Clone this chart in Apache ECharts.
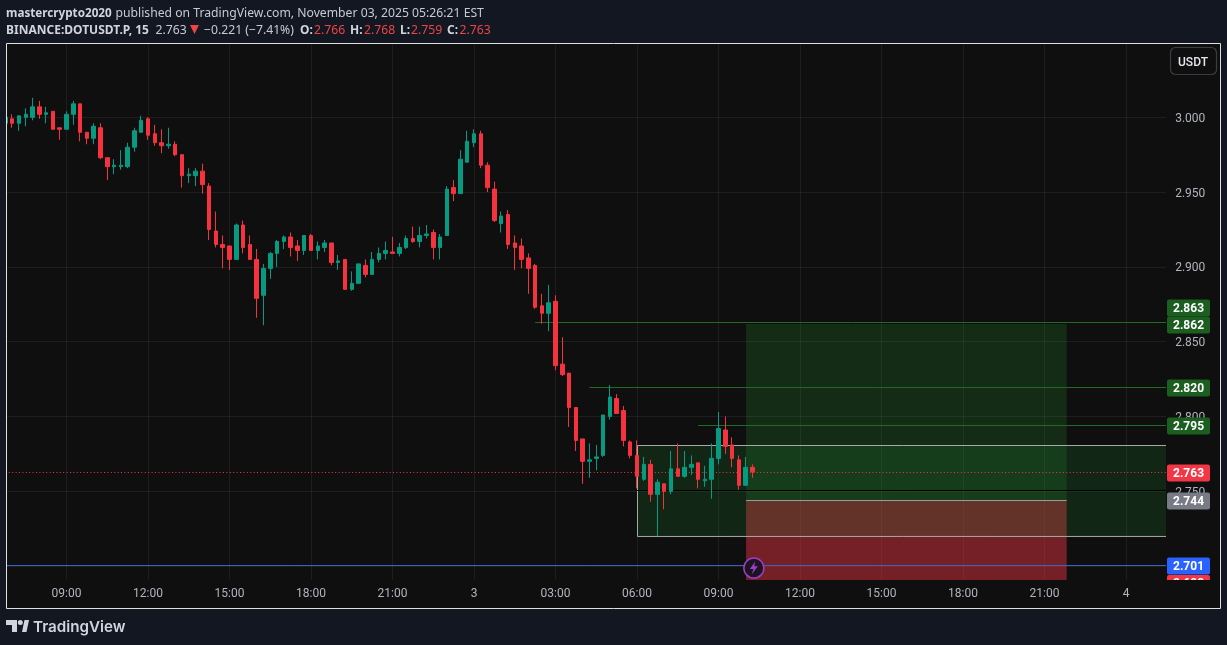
<!DOCTYPE html>
<html>
<head>
<meta charset="utf-8">
<title>DOTUSDT.P</title>
<script src="https://cdn.jsdelivr.net/npm/echarts@6/dist/echarts.min.js"></script>
<style>
html,body{margin:0;padding:0;background:#131722;}
#chart{width:1227px;height:645px;}
</style>
</head>
<body>
<div id="chart"></div>
<script>
// one row per 15 minute bar, starting 06:45 on Nov 2
var opens  = [2.996,2.999,2.996,3.000,3.000,3.007,3.002,3.004,2.993,2.992,3.002,3.009,2.990,2.986,2.993,2.973,2.967,2.967,2.967,2.980,2.990,2.999,2.989,2.983,2.981,2.982,2.975,2.961,2.961,2.964,2.954,2.924,2.915,2.914,2.905,2.928,2.915,2.905,2.881,2.899,2.909,
              2.917,2.920,2.914,2.911,2.921,2.911,2.913,2.916,2.903,2.905,2.885,2.889,2.901,2.895,2.905,2.909,2.910,2.909,2.913,2.919,2.917,2.921,2.923,2.913,2.921,2.953,2.949,2.970,2.983,2.989,2.968,2.952,2.929,2.935,2.916,2.914,2.906,2.901,2.874,
              2.869,2.877,2.835,2.829,2.806,2.785,2.770,2.772,2.774,2.800,2.812,2.804,2.783,2.774,2.758,2.768,2.748,2.755,2.750,2.765,2.760,2.766,2.769,2.757,2.758,2.772,2.791,2.781,2.771,2.754,2.766];
var closes = [3.000,2.996,3.001,3.002,3.007,3.002,3.003,2.992,2.992,3.002,3.009,2.990,2.986,2.994,2.973,2.967,2.968,2.968,2.980,2.991,2.998,2.988,2.983,2.981,2.982,2.975,2.961,2.962,2.964,2.955,2.925,2.915,2.913,2.905,2.928,2.913,2.905,2.879,2.899,2.909,2.917,
              2.920,2.913,2.911,2.921,2.911,2.914,2.916,2.903,2.904,2.885,2.889,2.902,2.895,2.905,2.909,2.911,2.909,2.913,2.919,2.917,2.921,2.922,2.913,2.920,2.952,2.949,2.972,2.984,2.989,2.968,2.953,2.931,2.934,2.915,2.913,2.905,2.899,2.873,2.869,
              2.876,2.834,2.828,2.806,2.784,2.770,2.771,2.773,2.801,2.813,2.802,2.784,2.774,2.760,2.768,2.748,2.756,2.750,2.765,2.760,2.766,2.768,2.758,2.758,2.772,2.792,2.780,2.772,2.754,2.766,2.763];
var lows   = [2.995,2.993,2.991,2.994,2.998,2.999,2.996,2.992,2.985,2.992,2.995,2.984,2.982,2.982,2.972,2.958,2.962,2.965,2.966,2.977,2.990,2.985,2.981,2.976,2.979,2.974,2.953,2.956,2.954,2.949,2.918,2.913,2.899,2.898,2.905,2.909,2.905,2.866,2.861,2.892,2.900,
              2.912,2.907,2.904,2.908,2.911,2.905,2.910,2.901,2.898,2.885,2.884,2.889,2.893,2.895,2.903,2.905,2.909,2.907,2.912,2.916,2.913,2.919,2.905,2.905,2.921,2.944,2.949,2.970,2.980,2.966,2.950,2.930,2.923,2.912,2.898,2.899,2.882,2.872,2.862,
              2.857,2.831,2.827,2.793,2.777,2.755,2.759,2.764,2.773,2.798,2.802,2.780,2.772,2.752,2.757,2.743,2.720,2.738,2.748,2.760,2.759,2.761,2.752,2.753,2.745,2.768,2.775,2.766,2.751,2.754,2.759];
var highs  = [3.001,3.002,3.001,3.006,3.013,3.011,3.007,3.004,2.993,3.004,3.011,3.009,2.990,2.996,2.996,2.973,2.972,2.978,2.983,2.993,3.001,3.000,2.995,2.992,2.993,2.984,2.975,2.966,2.966,2.969,2.956,2.937,2.921,2.914,2.929,2.931,2.921,2.912,2.902,2.910,2.918,
              2.921,2.923,2.918,2.921,2.922,2.917,2.918,2.916,2.908,2.905,2.897,2.902,2.905,2.910,2.913,2.917,2.920,2.916,2.921,2.927,2.927,2.928,2.925,2.922,2.954,2.958,2.978,2.991,2.992,2.991,2.970,2.957,2.937,2.938,2.921,2.919,2.909,2.902,2.882,
              2.888,2.881,2.853,2.829,2.806,2.785,2.782,2.781,2.801,2.821,2.815,2.807,2.784,2.784,2.773,2.771,2.758,2.755,2.777,2.782,2.777,2.774,2.769,2.767,2.782,2.803,2.800,2.786,2.774,2.773,2.768];

// time axis, 172 slots of 15 minutes
var categories = [];
for (var m = 0; m < 172; m++) {
    var t = 405 + m * 15;
    categories.push(('0' + (Math.floor(t / 60) % 24)).slice(-2) + ':' + ('0' + (t % 60)).slice(-2));
}
var xTickIndex = [9,21,33,45,57,69,81,93,105,117,129,141,153,165];
var xTickLabels = ['09:00','12:00','15:00','18:00','21:00','3','03:00','06:00','09:00','12:00','15:00','18:00','21:00','4'];
var yTicks = [3.0,2.95,2.9,2.85,2.8,2.75,2.7];

// right hand price tags: shown text, where the tag sits on the scale, colour
var tagLabels = ['2.863','2.862','2.820','2.795','2.763','2.744','2.701','2.688'];
var tagPrices = [2.8729,2.8615,2.8194,2.7940,2.7626,2.7438,2.7004,2.6887];
var tagColors = ['#1b5e20','#1b5e20','#1b5e20','#1b5e20','#f23645','#787b86','#2962ff','#f23645'];

// drawings on the chart
var targetLine = [78, 2.8628];
var levelA = [86, 2.8195];
var levelB = [102, 2.7941];
var lastPrice = 2.7627;
var blackLine = [93, 2.7507];
var blueLine = 2.7005;
var boxRange = [93.07, 2.7806, 2.7198];
var positionRange = [109.05, 156.26, 2.8618, 2.744, 2.688];
var boltAt = [110.2, 2.6987];

var X_MIN = -0.5, X_MAX = 171.5;
var Y_MIN = 2.6907, Y_MAX = 3.049;
var UP = '#089981', DOWN = '#f7323f', PANE = '#0f0f0f', PAGE = '#131722';
var TEXT = '#b2b5be';

var candles = opens.map(function (o, i) {
    return [o, closes[i], lows[i], highs[i]];
});

function hline(x, y, color, type) {
    return [
        {coord: [x, y], lineStyle: {color: color, width: 1, type: type || 'solid'}},
        {coord: [X_MAX, y]}
    ];
}

// small piece of header text
function head(x, y, text, fill, font) {
    return {type: 'text', z: 97, style: {x: x, y: y, text: text, fill: fill, verticalAlign: 'middle',
        font: font || '12.2px "Noto Sans"'}};
}
var BOLD = 'bold 12px "Noto Sans"';

var myChart = echarts.init(document.getElementById('chart'));

var option = {
    animation: false,
    backgroundColor: PAGE,
    textStyle: {fontFamily: 'Roboto'},
    grid: {left: 2, top: 44, width: 1168.2, height: 536},
    xAxis: [
        {type: 'category', data: categories, show: false},
        {
            type: 'value', min: X_MIN, max: X_MAX, position: 'bottom',
            axisLine: {show: false}, axisLabel: {show: false},
            axisTick: {show: false, customValues: xTickIndex},
            splitLine: {show: true, lineStyle: {color: 'rgba(242,242,242,0.07)', width: 1}}
        },
        {
            type: 'value', min: X_MIN, max: X_MAX, position: 'bottom', z: 90,
            axisLine: {show: false}, axisTick: {show: false}, splitLine: {show: false},
            axisLabel: {
                customValues: xTickIndex, color: TEXT, fontSize: 12, margin: 8,
                fontFamily: 'Roboto',
                formatter: function (v) { return xTickLabels[xTickIndex.indexOf(v)]; }
            }
        }
    ],
    yAxis: [
        {
            type: 'value', min: Y_MIN, max: Y_MAX, position: 'left',
            axisLine: {show: false}, axisLabel: {show: false},
            axisTick: {show: false, customValues: yTicks},
            splitLine: {show: true, lineStyle: {color: 'rgba(242,242,242,0.07)', width: 1}}
        },
        {
            // labels only, sits a hair lower than the grid scale like the original text
            type: 'value', min: Y_MIN + 0.001, max: Y_MAX + 0.001, position: 'right', z: 60,
            axisLine: {show: false}, axisTick: {show: false}, splitLine: {show: false},
            axisLabel: {
                customValues: yTicks, color: TEXT, fontSize: 12, margin: 5,
                fontFamily: 'Roboto',
                formatter: function (v) { return v.toFixed(3); }
            }
        }
    ],
    series: [
        {
            name: 'drawings',
            type: 'line',
            xAxisIndex: 1,
            yAxisIndex: 0,
            data: [],
            silent: true,
            markArea: {
                silent: true,
                data: [
                    [{coord: [positionRange[0], positionRange[2]], itemStyle: {color: 'rgba(40,150,50,0.22)'}},
                     {coord: [positionRange[1], positionRange[3]]}],
                    [{coord: [positionRange[0], positionRange[3]], itemStyle: {color: 'rgba(242,54,69,0.45)'}},
                     {coord: [positionRange[1], positionRange[4]]}],
                    [{coord: [boxRange[0], boxRange[1]], itemStyle: {color: 'rgba(30,130,50,0.2)', borderColor: '#a8a8a8', borderWidth: 1}},
                     {coord: [X_MAX, boxRange[2]]}]
                ]
            },
            markLine: {
                silent: true,
                symbol: 'none',
                label: {show: false},
                data: [
                    hline(targetLine[0], targetLine[1], '#1f6b24'),
                    hline(levelA[0], levelA[1], '#1f6b24'),
                    hline(levelB[0], levelB[1], '#1f6b24'),
                    hline(X_MIN, lastPrice, '#f23645', [1, 2.4]),
                    hline(blackLine[0], blackLine[1], '#000000'),
                    hline(X_MIN, blueLine, '#3a5fc8'),
                    [{coord: [positionRange[0], positionRange[3]], lineStyle: {color: '#9a9a9a', width: 1, type: 'solid'}},
                     {coord: [positionRange[1], positionRange[3]]}]
                ]
            },
            markPoint: {
                silent: true,
                label: {show: false},
                data: [
                    {coord: boltAt, symbol: 'circle', symbolSize: 20,
                     itemStyle: {color: '#1c1424', borderColor: '#9c3fc0', borderWidth: 1.5}},
                    {coord: boltAt, symbol: 'path://M6,0 L0,8 L4,8 L2,14 L9,5 L5,5 Z', symbolSize: [8, 13],
                     itemStyle: {color: '#9c3fc0'}}
                ]
            }
        },
        {
            name: 'DOTUSDT.P',
            type: 'candlestick',
            xAxisIndex: 0,
            yAxisIndex: 0,
            z: 6,
            barWidth: 4,
            data: candles,
            itemStyle: {color: UP, color0: DOWN, borderColor: UP, borderColor0: DOWN, borderWidth: 1}
        },
        {
            name: 'tags',
            type: 'custom',
            xAxisIndex: 1,
            yAxisIndex: 0,
            z: 70,
            silent: true,
            clip: false,
            data: tagPrices.map(function (p, i) { return [i, p]; }),
            renderItem: function (params, api) {
                var i = api.value(0);
                var y = api.coord([0, api.value(1)])[1];
                return {
                    type: 'group',
                    children: [
                        {type: 'rect', shape: {x: 1167, y: y - 8, width: 43, height: 17, r: 2}, style: {fill: tagColors[i]}},
                        {type: 'text', style: {x: 1188.5, y: y + 1.5, text: tagLabels[i], fill: '#ffffff', font: 'bold 12px Roboto', align: 'center', verticalAlign: 'middle'}}
                    ]
                };
            }
        }
    ],
    graphic: {
        elements: [
            {type: 'rect', z: -1, shape: {x: 7, y: 44, width: 1213, height: 564}, style: {fill: PANE}},
            // cover what runs past the pane
            {type: 'rect', z: 50, shape: {x: 1166, y: 44, width: 54, height: 536}, style: {fill: PANE}},
            {type: 'rect', z: 80, shape: {x: 7, y: 580, width: 1213, height: 28}, style: {fill: PANE}},
            {type: 'rect', z: 95, shape: {x: 0, y: 44, width: 6.5, height: 536}, style: {fill: PAGE}},
            {type: 'rect', z: 96, shape: {x: 6.5, y: 43.5, width: 1214, height: 565}, style: {fill: 'none', stroke: '#e0e0e0', lineWidth: 1}},
            // USDT button
            {type: 'rect', z: 96, shape: {x: 1170.5, y: 47.5, width: 46, height: 27, r: 5}, style: {fill: PANE, stroke: '#3a3c44', lineWidth: 1.2}},
            {type: 'text', z: 97, style: {x: 1193, y: 62.5, text: 'USDT', fill: '#e4e6ea', font: '500 12px Roboto', align: 'center', verticalAlign: 'middle'}},
            // header
            head(6, 13.5, 'mastercrypto2020', '#d1d4dc', 'bold 11.7px "Noto Sans"'),
            head(115.5, 13.5, 'published on TradingView.com, November 03, 2025 05:26:21 EST', '#c8cad2'),
            head(6, 30.5, 'BINANCE:DOTUSDT.P, 15', '#d1d4dc', BOLD),
            head(155.5, 30.5, '2.763', '#c8cad2'),
            {type: 'polygon', z: 97, shape: {points: [[190, 25], [199, 25], [194.5, 34]]}, style: {fill: '#ef4444'}},
            head(204, 30.5, '−0.221 (−7.41%)', '#c8cad2'),
            head(300, 30.5, 'O:', '#d1d4dc', BOLD), head(314, 30.5, '2.766', '#ef4444'),
            head(350, 30.5, 'H:', '#d1d4dc', BOLD), head(364, 30.5, '2.768', '#ef4444'),
            head(400, 30.5, 'L:', '#d1d4dc', BOLD), head(411, 30.5, '2.759', '#ef4444'),
            head(447, 30.5, 'C:', '#d1d4dc', BOLD), head(459.5, 30.5, '2.763', '#ef4444'),
            // logo
            {type: 'polygon', z: 97, shape: {points: [[6, 620], [17, 620], [17, 632], [12, 632], [12, 625], [6, 625]]}, style: {fill: '#d1d4dc'}},
            {type: 'polygon', z: 97, shape: {points: [[22, 632], [24.5, 620], [29, 620], [26.5, 632]]}, style: {fill: '#d1d4dc'}},
            {type: 'circle', z: 97, shape: {cx: 20.3, cy: 622.6, r: 2.5}, style: {fill: '#d1d4dc'}},
            {type: 'text', z: 97, style: {x: 33, y: 627, text: 'TradingView', fill: '#d1d4dc', font: '600 15.2px Inter', verticalAlign: 'middle'}}
        ]
    }
};

myChart.setOption(option);
</script>
</body>
</html>
